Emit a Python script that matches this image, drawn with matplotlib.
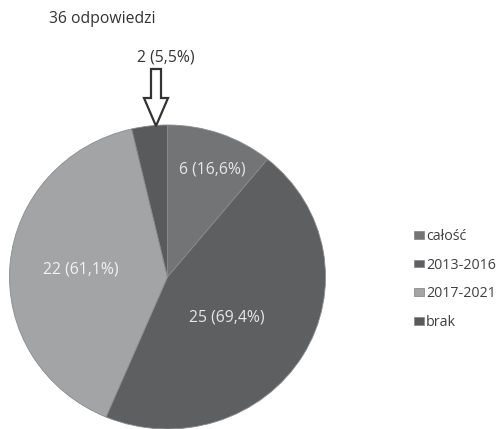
import matplotlib
matplotlib.use("Agg")
import matplotlib.pyplot as plt
from matplotlib.patches import FancyArrow

plt.rcParams['font.family'] = ['Open Sans', 'DejaVu Sans']

labels = ['całość', '2013-2016', '2017-2021', 'brak']
counts = [6, 25, 22, 2]
texts = ['6 (16,6%)', '25 (69,4%)', '22 (61,1%)', '2 (5,5%)']
colors = ['#737475', '#5e5f60', '#a3a4a5', '#595a5b']

W, H = 501, 429
fig = plt.figure(figsize=(W / 100, H / 100), dpi=100)

# pie axes: pie is slightly wider than tall in the original
cx, cy, rx, ry = 167.5, 277, 158, 152
ax = fig.add_axes([0, 0, 1, 1])
wedges, _ = ax.pie(counts, colors=colors, startangle=90, counterclock=False,
                   wedgeprops=dict(linewidth=0.6, edgecolor='#8a8b8c'))
ax.set_aspect('auto')
ax.set_xlim(-cx / rx, (W - cx) / rx)
ax.set_ylim(-(H - cy) / ry, cy / ry)
ax.axis('off')

# overlay in pixel coords for text and arrow
ov = fig.add_axes([0, 0, 1, 1])
ov.set_xlim(0, W)
ov.set_ylim(H, 0)
ov.axis('off')

ov.text(49, 19, '36 odpowiedzi', fontsize=11.3, color='#333333', va='center', ha='left')

pos = [(212, 170), (227, 317), (81, 270), (166, 57)]
tcol = ['#e6e6e6', '#e6e6e6', '#f2f2f2', '#333333']
for t, (x, y), c in zip(texts, pos, tcol):
    ov.text(x, y, t, fontsize=11.3, color=c, ha='center', va='center')

ov.add_patch(FancyArrow(156, 69, 0, 57, width=10, head_width=24, head_length=28,
                        length_includes_head=True, fill=False,
                        edgecolor='#333333', linewidth=1.6))

leg = ov.legend(wedges, labels, loc='upper left', bbox_to_anchor=(414 / W, 1 - 229 / H),
                frameon=False, fontsize=10.3, handlelength=0.68, handleheight=0.48,
                handletextpad=0.15, labelspacing=0.95, borderpad=0, borderaxespad=0)
for t in leg.get_texts():
    t.set_color('#404040')

fig.savefig('out.png', dpi=100)
